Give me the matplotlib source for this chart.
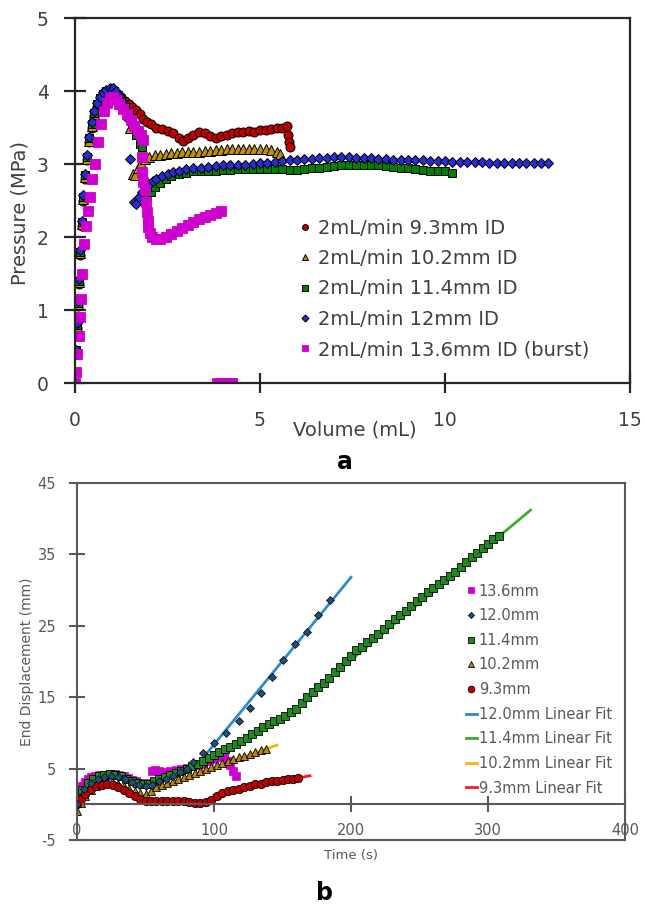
import matplotlib
matplotlib.use('Agg')
from matplotlib import pyplot as plt

plt.rcParams['axes.unicode_minus'] = False

# ---- panel a: pressure vs volume ----
vol_93 = [0, 0.02, 0.05, 0.08, 0.11, 0.14, 0.18, 0.22, 0.27, 0.32, 0.38, 0.45, 0.52, 0.6, 0.68, 0.76, 0.85, 0.95,
          1.05, 1.15, 1.25, 1.35, 1.45, 1.55, 1.65, 1.75, 1.85, 1.95, 2.05, 2.2, 2.35, 2.5, 2.65, 2.8, 2.92, 3.05,
          3.2, 3.35, 3.5, 3.65, 3.8, 3.95, 4.1, 4.25, 4.4, 4.55, 4.7, 4.85, 5.0, 5.15, 5.3, 5.45, 5.6, 5.72, 5.76,
          5.78, 5.82]
pres_93 = [0, 0.4, 0.75, 1.05, 1.35, 1.75, 2.15, 2.5, 2.8, 3.05, 3.3, 3.5, 3.66, 3.78, 3.86, 3.92, 3.95, 3.96,
           3.96, 3.95, 3.92, 3.87, 3.82, 3.78, 3.74, 3.68, 3.62, 3.58, 3.55, 3.5, 3.48, 3.45, 3.42, 3.36, 3.32, 3.35,
           3.4, 3.44, 3.43, 3.38, 3.36, 3.38, 3.4, 3.43, 3.44, 3.44, 3.45, 3.44, 3.46, 3.47, 3.48, 3.49, 3.5, 3.52,
           3.4, 3.3, 3.23]

vol_102 = [0, 0.02, 0.05, 0.08, 0.11, 0.14, 0.18, 0.22, 0.27, 0.32, 0.38, 0.45, 0.52, 0.6, 0.68, 0.76, 0.85, 0.95,
           1.05, 1.15, 1.25, 1.35, 1.45, 1.49, 1.57, 1.62, 1.7, 1.78, 1.88, 2.0, 2.15, 2.3, 2.45, 2.6, 2.75, 2.9,
           3.05, 3.2, 3.35, 3.5, 3.65, 3.8, 3.95, 4.1, 4.25, 4.4, 4.55, 4.7, 4.85, 5.0, 5.15, 5.3, 5.45, 5.55]
pres_102 = [0, 0.42, 0.78, 1.08, 1.38, 1.78, 2.18, 2.52, 2.82, 3.07, 3.32, 3.52, 3.68, 3.8, 3.88, 3.94, 3.97, 3.98,
            3.97, 3.95, 3.88, 3.8, 3.7, 3.5, 2.87, 2.85, 2.95, 3.02, 3.07, 3.1, 3.12, 3.13, 3.14, 3.15, 3.15, 3.16,
            3.16, 3.17, 3.17, 3.18, 3.18, 3.19, 3.19, 3.2, 3.2, 3.2, 3.21, 3.21, 3.21, 3.21, 3.2, 3.19, 3.17, 3.14]

vol_114 = [0, 0.02, 0.05, 0.08, 0.11, 0.14, 0.18, 0.22, 0.27, 0.32, 0.38, 0.45, 0.52, 0.6, 0.68, 0.76, 0.85, 0.95,
           1.05, 1.15, 1.25, 1.35, 1.45, 1.55, 1.65, 1.75, 1.82, 1.88, 1.95, 2.05, 2.15, 2.3, 2.45, 2.6, 2.8, 3.0,
           3.2, 3.4, 3.6, 3.8, 4.0, 4.2, 4.4, 4.6, 4.8, 5.0, 5.2, 5.4, 5.6, 5.8, 6.0, 6.2, 6.4, 6.6, 6.8, 7.0, 7.2,
           7.4, 7.6, 7.8, 8.0, 8.2, 8.4, 8.6, 8.8, 9.0, 9.2, 9.4, 9.6, 9.8, 10.0, 10.18]
pres_114 = [0, 0.45, 0.8, 1.1, 1.4, 1.8, 2.2, 2.55, 2.85, 3.1, 3.35, 3.55, 3.7, 3.82, 3.9, 3.96, 4.0, 4.01,
            4.0, 3.95, 3.87, 3.78, 3.68, 3.55, 3.4, 3.28, 3.23, 2.5, 2.55, 2.62, 2.68, 2.74, 2.8, 2.84, 2.87, 2.88,
            2.9, 2.9, 2.91, 2.91, 2.92, 2.92, 2.93, 2.93, 2.93, 2.93, 2.93, 2.93, 2.93, 2.92, 2.92, 2.93, 2.94,
            2.95, 2.96, 2.97, 2.98, 2.99, 2.99, 2.99, 2.99, 2.98, 2.97, 2.96, 2.95, 2.94, 2.93, 2.92, 2.91, 2.9,
            2.9, 2.88]

vol_12 = [0, 0.02, 0.05, 0.08, 0.11, 0.14, 0.18, 0.22, 0.27, 0.32, 0.38, 0.45, 0.52, 0.6, 0.68, 0.76, 0.85, 0.95,
          1.02, 1.1, 1.18, 1.26, 1.34, 1.42, 1.49, 1.6, 1.66, 1.72, 1.8, 1.9, 2.0, 2.1, 2.2, 2.35, 2.5, 2.65, 2.8,
          3.0, 3.2, 3.4, 3.6, 3.8, 4.0, 4.2, 4.4, 4.6, 4.8, 5.0, 5.2, 5.4, 5.6, 5.8, 6.0, 6.2, 6.4, 6.6, 6.8, 7.0,
          7.2, 7.4, 7.6, 7.8, 8.0, 8.2, 8.4, 8.6, 8.8, 9.0, 9.2, 9.4, 9.6, 9.8, 10.0, 10.2, 10.4, 10.6, 10.8, 11.0,
          11.2, 11.4, 11.6, 11.8, 12.0, 12.2, 12.4, 12.6, 12.78]
pres_12 = [0, 0.45, 0.82, 1.12, 1.42, 1.82, 2.22, 2.57, 2.87, 3.12, 3.37, 3.57, 3.72, 3.84, 3.92, 3.98, 4.02, 4.04,
           4.04, 4.0, 3.93, 3.85, 3.75, 3.62, 3.07, 2.48, 2.45, 2.55, 2.62, 2.68, 2.73, 2.77, 2.8, 2.84, 2.87, 2.89,
           2.91, 2.93, 2.94, 2.95, 2.96, 2.97, 2.98, 2.98, 2.99, 2.99, 3.0, 3.01, 3.02, 3.03, 3.04, 3.05, 3.06,
           3.07, 3.07, 3.08, 3.08, 3.09, 3.09, 3.09, 3.08, 3.08, 3.08, 3.07, 3.07, 3.06, 3.06, 3.05, 3.05, 3.05,
           3.04, 3.04, 3.04, 3.03, 3.03, 3.03, 3.03, 3.03, 3.02, 3.02, 3.02, 3.02, 3.02, 3.02, 3.01, 3.01, 3.01]

vol_136 = [0, 0.03, 0.06, 0.1, 0.13, 0.16, 0.2, 0.25, 0.3, 0.35, 0.4, 0.47, 0.54, 0.62, 0.7, 0.78, 0.86, 0.94, 1.02,
           1.1, 1.2, 1.3, 1.4, 1.5, 1.6, 1.7, 1.78, 1.84, 1.82, 1.81, 1.85, 1.89, 1.92, 1.94, 1.96, 1.98, 2.02, 2.08,
           2.18, 2.3, 2.45, 2.6, 2.75, 2.9, 3.05, 3.2, 3.35, 3.5, 3.65, 3.8, 3.95, 3.85, 3.95, 4.05, 4.15, 4.25]
pres_136 = [0, 0.15, 0.4, 0.65, 0.9, 1.15, 1.5, 1.9, 2.15, 2.35, 2.55, 2.8, 3.0, 3.3, 3.55, 3.72, 3.83, 3.9, 3.92,
            3.88, 3.82, 3.75, 3.68, 3.6, 3.52, 3.45, 3.4, 3.33, 3.1, 2.89, 2.75, 2.64, 2.48, 2.34, 2.22, 2.14, 2.05,
            2.0, 1.97, 1.97, 2.0, 2.04, 2.08, 2.12, 2.16, 2.2, 2.24, 2.27, 2.3, 2.33, 2.36, 0, 0, 0, 0, 0]

vol_ticks = [0, 5, 10, 15]
pres_ticks = [0, 1, 2, 3, 4, 5]

# ---- panel b: end displacement vs time ----
t_136 = [0, 2, 4, 6, 8, 10, 13, 16, 19, 22, 25, 28, 31, 34, 37, 40, 43, 46, 49, 52, 55, 57, 60, 64, 68, 72, 76,
         80, 84, 88, 92, 96, 100, 104, 107, 110, 112, 114, 116]
d_136 = [0.4, 1.6, 2.5, 3.1, 3.5, 3.8, 4.0, 4.1, 4.1, 4.1, 4.2, 4.2, 4.1, 3.9, 3.7, 3.4, 3.2, 3.0, 2.9, 3.0, 4.6,
         4.8, 4.6, 4.5, 4.6, 4.8, 5.0, 5.1, 5.3, 5.5, 5.7, 6.0, 6.3, 6.6, 6.7, 6.0, 5.5, 4.6, 3.9]

t_120 = [0, 5, 10, 15, 20, 25, 30, 35, 40, 45, 50, 55, 60, 65, 70, 75, 80, 85, 92, 100, 109, 118, 126, 134, 142,
         150, 159, 168, 176, 185]
d_120 = [0.0, 2.2, 3.0, 3.5, 3.8, 3.9, 3.8, 3.5, 3.1, 2.7, 2.5, 2.7, 3.2, 3.6, 4.0, 4.5, 5.0, 5.9, 7.2, 8.6, 10.0,
         11.6, 13.5, 15.6, 17.8, 20.2, 22.4, 24.2, 26.5, 28.6]

t_114 = [0, 4, 8, 12, 16, 20, 24, 28, 32, 36, 40, 44, 48, 52, 56, 60, 64, 68, 72, 76, 80, 84, 88, 92, 96, 100, 104,
         108, 112, 116, 120, 124, 128, 132, 136, 140, 144, 148, 152, 156, 160, 164, 168, 172, 176, 180, 184, 188,
         192, 196, 200, 204, 208, 212, 216, 220, 224, 228, 232, 236, 240, 244, 248, 252, 256, 260, 264, 268, 272,
         276, 280, 284, 288, 292, 296, 300, 304, 308]
d_114 = [0.2, 2.0, 3.0, 3.6, 3.9, 4.1, 4.2, 4.1, 3.9, 3.6, 3.3, 3.0, 2.8, 2.9, 3.2, 3.5, 3.8, 4.1, 4.4, 4.7, 5.0,
         5.3, 5.7, 6.1, 6.5, 6.9, 7.3, 7.7, 8.0, 8.4, 8.8, 9.3, 9.8, 10.3, 10.8, 11.2, 11.6, 12.0, 12.4, 12.9,
         13.4, 14.2, 15.0, 15.8, 16.5, 17.0, 17.7, 18.5, 19.3, 20.1, 20.8, 21.6, 22.1, 22.7, 23.3, 23.9, 24.6,
         25.3, 25.9, 26.5, 27.1, 27.8, 28.5, 29.1, 29.7, 30.3, 30.8, 31.4, 32.0, 32.6, 33.3, 33.9, 34.6, 35.2,
         35.9, 36.5, 37.1, 37.6]

t_102 = [0, 3, 6, 10, 14, 18, 22, 26, 30, 34, 38, 42, 46, 50, 54, 58, 62, 66, 70, 74, 78, 82, 86, 90, 94, 98, 102,
         106, 110, 114, 118, 122, 126, 130, 134, 138]
d_102 = [-1.0, 0.2, 1.2, 2.0, 2.6, 2.9, 3.0, 3.0, 2.8, 2.5, 2.2, 1.9, 1.6, 1.5, 1.8, 2.4, 2.7, 3.0, 3.3, 3.5, 3.8,
         4.1, 4.4, 4.7, 4.9, 5.2, 5.5, 5.8, 6.0, 6.3, 6.6, 6.8, 7.1, 7.3, 7.6, 7.8]

t_93 = [0, 3, 6, 10, 14, 18, 22, 26, 30, 34, 38, 42, 46, 50, 54, 58, 62, 66, 70, 74, 78, 82, 86, 90, 94, 98, 102,
        106, 110, 114, 118, 122, 126, 130, 134, 138, 142, 146, 150, 154, 158, 161]
d_93 = [0.0, 0.8, 1.5, 2.1, 2.5, 2.7, 2.8, 2.7, 2.4, 2.0, 1.6, 1.2, 0.8, 0.5, 0.4, 0.4, 0.4, 0.4, 0.4, 0.5, 0.4,
        0.3, 0.2, 0.2, 0.3, 0.6, 1.2, 1.6, 1.8, 2.0, 2.2, 2.4, 2.6, 2.8, 2.9, 3.1, 3.2, 3.3, 3.4, 3.5, 3.6, 3.7]

fit_t_120 = [95, 200]
fit_d_120 = [7.2, 31.8]
fit_t_114 = [180, 331]
fit_d_114 = [17.0, 41.2]
fit_t_102 = [60, 146]
fit_d_102 = [2.4, 8.3]
fit_t_93 = [100, 170]
fit_d_93 = [1.3, 4.0]

time_ticks = [0, 100, 200, 300, 400]
disp_ticks = [-5, 5, 15, 25, 35, 45]

fig = plt.figure(figsize=(6.45, 9.1), dpi=100)

# ---------------- panel a ----------------
ax1 = fig.add_axes([0.1163, 0.5791, 0.8604, 0.4011])
dark = '#262626'
ms_a = 6.5
ax1.plot(vol_93, pres_93, 'o', color='#C00000', mec='black', mew=0.7, ms=ms_a, label='2mL/min 9.3mm ID')
ax1.plot(vol_102, pres_102, '^', color='#BF9000', mec='black', mew=0.7, ms=ms_a, label='2mL/min 10.2mm ID')
ax1.plot(vol_114, pres_114, 's', color='#008000', mec='black', mew=0.7, ms=ms_a - 0.5, label='2mL/min 11.4mm ID')
ax1.plot(vol_12, pres_12, 'D', color='#2B2BD6', mec='black', mew=0.7, ms=ms_a - 1, label='2mL/min 12mm ID')
ax1.plot(vol_136, pres_136, 's', color='#D000D0', mec='#CC00CC', mew=0.6, ms=ms_a, label='2mL/min 13.6mm ID (burst)')

ax1.set_xlim(0, 15)
ax1.set_ylim(0, 5)
ax1.set_xticks(vol_ticks)
ax1.set_yticks(pres_ticks)
for sp in ax1.spines.values():
    sp.set_color(dark)
    sp.set_linewidth(1.6)
ax1.tick_params(axis='x', direction='inout', length=14, width=1.6, color=dark, pad=13,
                labelsize=13.5, labelcolor='#404040')
ax1.tick_params(axis='y', direction='inout', length=16, width=1.6, color=dark, pad=11,
                labelsize=13.5, labelcolor='#404040')
leg1 = ax1.legend(loc='upper left', bbox_to_anchor=(0.448, 0.768), bbox_transform=fig.transFigure,
                  frameon=False, fontsize=14, handlelength=0.8, handletextpad=0.3, labelspacing=0.58,
                  borderaxespad=0, borderpad=0.4, markerscale=0.65)
for txt in leg1.get_texts():
    txt.set_color('#404040')

fig.text(355 / 645, 1 - 430 / 910, 'Volume (mL)', ha='center', va='center', fontsize=14, color='#404040')
fig.text(20 / 645, 1 - 213 / 910, 'Pressure (MPa)', ha='center', va='center', rotation=90,
         fontsize=14, color='#404040')
fig.text(345 / 645, 1 - 462 / 910, 'a', ha='center', va='center', fontsize=17, fontweight='bold')

# ---------------- panel b ----------------
ax2 = fig.add_axes([0.1194, 0.0769, 0.8496, 0.3923])
grey = '#595959'
ms_b = 6
ax2.plot(fit_t_120, fit_d_120, '-', color='#2E8BC9', lw=2, zorder=1, label='12.0mm Linear Fit')
ax2.plot(fit_t_114, fit_d_114, '-', color='#3DAE2B', lw=2, zorder=1, label='11.4mm Linear Fit')
ax2.plot(fit_t_102, fit_d_102, '-', color='#F5B700', lw=2, zorder=1, label='10.2mm Linear Fit')
ax2.plot(fit_t_93, fit_d_93, '-', color='#FF1A1A', lw=2, zorder=1, label='9.3mm Linear Fit')
ax2.plot(t_136, d_136, 's', color='#CC00CC', mec='#CC00CC', mew=0.5, ms=ms_b, zorder=2, label='13.6mm')
ax2.plot(t_120, d_120, 'D', color='#1F4E79', mec='black', mew=0.5, ms=4, zorder=3, label='12.0mm')
ax2.plot(t_114, d_114, 's', color='#1E8A1E', mec='black', mew=0.6, ms=ms_b, zorder=2, label='11.4mm')
ax2.plot(t_102, d_102, '^', color='#B8860B', mec='black', mew=0.6, ms=ms_b, zorder=2, label='10.2mm')
ax2.plot(t_93, d_93, 'o', color='#C00000', mec='black', mew=0.6, ms=ms_b, zorder=2, label='9.3mm')

ax2.set_xlim(0, 400)
ax2.set_ylim(-5, 45)
ax2.set_xticks(time_ticks)
ax2.set_yticks(disp_ticks)
ax2.spines['bottom'].set_position(('data', 0))
for sp in ax2.spines.values():
    sp.set_color(grey)
    sp.set_linewidth(1.5)
# frame line along the bottom of the box
ax2.plot([0, 1], [0, 0], transform=ax2.transAxes, color=grey, lw=1.5, clip_on=False)
ax2.tick_params(axis='x', direction='inout', length=11, width=1.5, color=grey, pad=8,
                labelsize=10.5, labelcolor=grey)
ax2.tick_params(axis='y', direction='inout', length=12, width=1.5, color=grey, pad=9,
                labelsize=10.5, labelcolor=grey)

handles, labels = ax2.get_legend_handles_labels()
order = [4, 5, 6, 7, 8, 0, 1, 2, 3]
leg2 = ax2.legend([handles[i] for i in order], [labels[i] for i in order], loc='upper left',
                  bbox_to_anchor=(0.714, 0.3652), bbox_transform=fig.transFigure, frameon=False,
                  fontsize=10.5, handlelength=0.7, handletextpad=0.15, labelspacing=0.66,
                  borderaxespad=0, borderpad=0.4, markerscale=0.8)
for txt in leg2.get_texts():
    txt.set_color(grey)

fig.text(351 / 645, 1 - 855 / 910, 'Time (s)', ha='center', va='center', fontsize=9.5, color=grey)
fig.text(27 / 645, 1 - 662 / 910, 'End Displacement (mm)', ha='center', va='center', rotation=90,
         fontsize=10, color=grey)
fig.text(325 / 645, 1 - 893 / 910, 'b', ha='center', va='center', fontsize=17, fontweight='bold')

fig.savefig('out.png', dpi=100)
